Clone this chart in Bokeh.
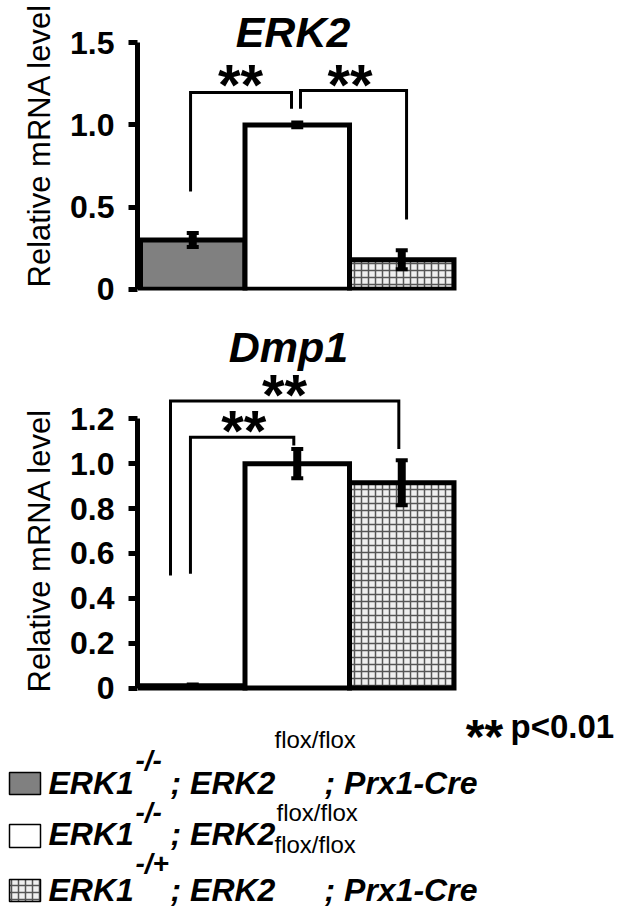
from bokeh.plotting import figure
from bokeh.models import Range1d, FixedTicker, Label, Title, ColumnDataSource, Whisker, TeeHead
from bokeh.layouts import column
from bokeh.embed import file_html
from bokeh.resources import INLINE
from bokeh.core.properties import value

# ---------------- data ----------------
positions = [1, 2, 3]
bar_fills = ["#808080", "#ffffff", "#efefef"]
bar_hatches = [" ", " ", "+"]

erk2_title = "ERK2"
erk2_mean = [0.30, 1.00, 0.18]
erk2_err = [0.042, 0.015, 0.058]
erk2_ticks = [0, 0.5, 1.0, 1.5]
erk2_tick_labels = ["0", "0.5", "1.0", "1.5"]

dmp1_title = "Dmp1"
dmp1_mean = [0.01, 1.00, 0.915]
dmp1_err = [0.006, 0.065, 0.10]
dmp1_ticks = [0, 0.2, 0.4, 0.6, 0.8, 1.0, 1.2]
dmp1_tick_labels = ["0", "0.2", "0.4", "0.6", "0.8", "1.0", "1.2"]

y_label = "Relative mRNA level"
sig_mark = "**"
sig_note = "p<0.01"

# significance brackets: (x_left, x_right, y_top, y_left_end, y_right_end)
erk2_brackets = [(0.979, 1.945, 1.197, 0.595, 1.098),
                 (2.031, 3.046, 1.209, 1.098, 0.425)]
dmp1_brackets = [(0.978, 1.967, 1.118, 0.509, 1.081),
                 (0.787, 2.972, 1.279, 0.502, 1.066)]

legend_rows = [
    ["ERK1", "-/-", "; ERK2", "flox/flox", "; Prx1-Cre"],
    ["ERK1", "-/-", "; ERK2", "flox/flox"],
    ["ERK1", "-/+", "; ERK2", "flox/flox", "; Prx1-Cre"],
]

# ---------------- layout constants (page pixels) ----------------
FONT = "Liberation Sans"
PX_PER_X = 104.5
X_EDGE_PAGE = 140.0        # page x of x = 0.5
FRAME_LEFT = 137
W = 625
MID = 0.35                 # 'middle' baseline sits this many em above the alphabetic one


def make_chart(title, means, errs, ticks, tick_labels, axis_top, zero_page, px_per_unit,
               fig_top, fig_h, frame_h, brackets, star_centers, title_xy, title_size, label_offset):
    frame_bottom = fig_top + frame_h
    y0 = -(frame_bottom - zero_page) / px_per_unit
    y1 = (zero_page - fig_top) / px_per_unit
    x0 = 0.5 - (X_EDGE_PAGE - FRAME_LEFT) / PX_PER_X
    x1 = x0 + (W - FRAME_LEFT) / PX_PER_X

    def yd(page_y):
        return (zero_page - page_y) / px_per_unit

    def xd(page_x):
        return 0.5 + (page_x - X_EDGE_PAGE) / PX_PER_X

    p = figure(width=W, height=fig_h, x_range=Range1d(x0, x1), y_range=Range1d(y0, y1),
               output_backend="svg", toolbar_location=None, x_axis_location=None,
               min_border_left=FRAME_LEFT, min_border_right=0,
               min_border_top=0, min_border_bottom=fig_h - frame_h)
    p.outline_line_color = None
    p.grid.visible = False
    p.background_fill_color = "white"
    p.border_fill_color = "white"

    ax = p.yaxis[0]
    ax.ticker = FixedTicker(ticks=ticks)
    ax.major_label_overrides = {t: l for t, l in zip(ticks, tick_labels)}
    ax.bounds = (0, axis_top)
    ax.axis_line_width = 5
    ax.axis_line_color = "black"
    ax.major_tick_line_width = 5
    ax.major_tick_line_color = "black"
    ax.major_tick_out = 9
    ax.major_tick_in = 0
    ax.minor_tick_out = 0
    ax.minor_tick_in = 0
    ax.major_label_standoff = 14
    ax.major_label_text_font = FONT
    ax.major_label_text_font_style = "bold"
    ax.major_label_text_font_size = "32px"
    ax.major_label_text_color = "black"

    p.add_layout(Title(text=y_label, align="left", offset=label_offset,
                       text_font=FONT, text_font_style="normal", text_color="black",
                       text_font_size="31px", standoff=21), "left")

    src = ColumnDataSource(dict(
        x=positions, top=means, fill=bar_fills, hatch=bar_hatches,
        lower=[m - e for m, e in zip(means, errs)],
        upper=[m + e for m, e in zip(means, errs)],
    ))
    p.vbar(x="x", top="top", bottom=0, width=1.0, source=src,
           fill_color="fill", line_color="black", line_width=5, line_join="miter",
           hatch_pattern="hatch", hatch_scale=7, hatch_weight=1.5, hatch_color="#555555")
    p.add_layout(Whisker(source=src, base="x", upper="upper", lower="lower",
                         level="overlay", line_width=8, line_color="black",
                         upper_head=TeeHead(size=12, line_width=4, line_color="black"),
                         lower_head=TeeHead(size=12, line_width=4, line_color="black")))

    xs = [[b[0], b[0], b[1], b[1]] for b in brackets]
    ys = [[b[3], b[2], b[2], b[4]] for b in brackets]
    p.multi_line(xs=xs, ys=ys, line_color="black", line_width=3, line_join="miter")

    star_fs = 58
    sx = [xd(c[0]) for c in star_centers]
    sy = [yd(c[1] + 0.09 * star_fs) for c in star_centers]
    p.text(x=sx, y=sy, text=[sig_mark] * len(sx), text_font=value(FONT),
           text_font_style="bold", text_font_size=f"{star_fs}px", text_align="center",
           text_baseline="middle", text_color="black")

    p.add_layout(Label(x=xd(title_xy[0]), y=yd(title_xy[1] - MID * title_size), text=title,
                       text_font=FONT, text_font_style="bold italic",
                       text_font_size=f"{title_size}px",
                       text_align="center", text_baseline="middle", text_color="black"))
    return p


p1 = make_chart(erk2_title, erk2_mean, erk2_err, erk2_ticks, erk2_tick_labels, 1.5,
                288.8, 164.4, 0, 310, 290, erk2_brackets,
                [(240, 78.3), (349.5, 78.3)], (292.5, 46.7), 43, 3)
p2 = make_chart(dmp1_title, dmp1_mean, dmp1_err, dmp1_ticks, dmp1_tick_labels, 1.2,
                687.5, 224.3, 310, 396, 385, dmp1_brackets,
                [(243.3, 425), (284, 389)], (288, 362), 43, 3)

# ---------------- legend (data coords = page pixels) ----------------
LT, LH = 706, 208
p3 = figure(width=W, height=LH, x_range=Range1d(0, W), y_range=Range1d(LT + LH, LT),
            output_backend="svg", toolbar_location=None,
            x_axis_location=None, y_axis_location=None, min_border=0)
if "frame_align" in p3.properties():
    p3.frame_align = False
p3.outline_line_color = None
p3.grid.visible = False

sw = ColumnDataSource(dict(
    left=[9, 9, 9], right=[40, 40, 40],
    top=[772, 824, 879], bottom=[794, 847, 901],
    fill=bar_fills, hatch=bar_hatches,
))
p3.quad(left="left", right="right", top="top", bottom="bottom", source=sw,
        fill_color="fill", line_color="black", line_width=1.5,
        hatch_pattern="hatch", hatch_scale=7, hatch_weight=1.5, hatch_color="#555555")

styles = {
    "main": ("bold italic", 32),
    "sup1": ("bold italic", 28),
    "sup2": ("normal", 24),
}
row_layout = [
    [(48, 794, "main"), (135, 770, "sup1"), (170, 794, "main"), (274, 747, "sup2"), (324, 794, "main")],
    [(48, 845, "main"), (135, 822, "sup1"), (170, 845, "main"), (276, 820, "sup2")],
    [(48, 901, "main"), (135, 873, "sup1"), (170, 901, "main"), (274, 852, "sup2"), (324, 901, "main")],
]
for texts, lay in zip(legend_rows, row_layout):
    for t, (x, y, st) in zip(texts, lay):
        fs, sz = styles[st]
        p3.text(x=[x], y=[y - MID * sz], text=[t], text_font=value(FONT),
                text_font_style=fs, text_font_size=f"{sz}px", text_align="left",
                text_baseline="middle", text_color="black")

p3.text(x=[484], y=[732 + 0.09 * 48], text=[sig_mark], text_font=value(FONT),
        text_font_style="bold", text_font_size="48px", text_align="center",
        text_baseline="middle", text_color="black")
p3.text(x=[510], y=[738 - MID * 33], text=[sig_note], text_font=value(FONT),
        text_font_style="bold", text_font_size="33px", text_align="left",
        text_baseline="middle", text_color="black")

layout = column(p1, p2, p3, spacing=0)
open("out.html", "w").write(file_html(layout, INLINE))
